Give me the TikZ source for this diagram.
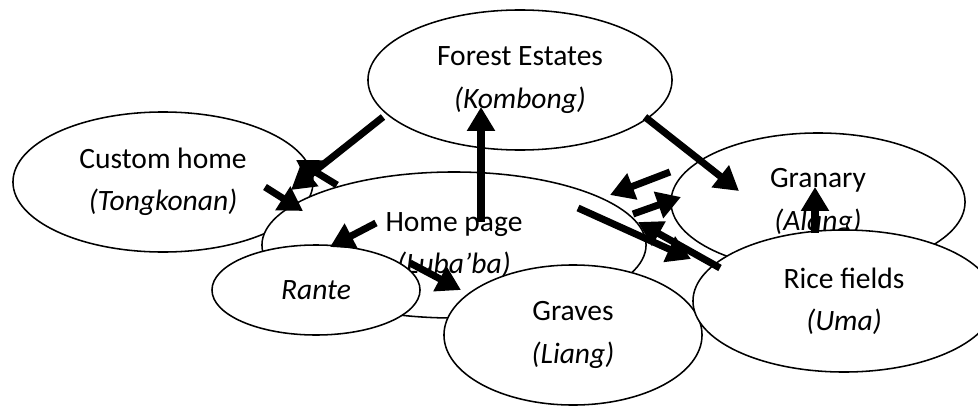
\documentclass[tikz,border=0pt]{standalone}
\usepackage{fontspec}
\setmainfont{Carlito}
\usetikzlibrary{shapes.geometric, arrows.meta, positioning}
\tikzset{fattriangle/.tip={Triangle[length = 17pt, width = 19pt]}}

\begin{document}
\begin{tikzpicture}[
    x = 0.025cm,
    y = -0.025cm,
    place/.style={
        ellipse,
        draw = black,
        fill = white,
        line width = 1.1pt,
        inner sep = 0pt,
        align = center,
        font = \fontsize{21}{30}\selectfont
    },
    link/.style={
        line width = 5pt,
        -fattriangle
    }
]
\useasboundingbox (0, 0) rectangle (978, 407);

% places
\node[place, minimum width = 7.5cm, minimum height = 3.5cm] (custom) at (163, 182) {Custom home\\\textit{(Tongkonan)}};
\node[place, minimum width = 7.6cm, minimum height = 3.5cm] (forest) at (520, 80) {Forest Estates\\\textit{(Kombong)}};
\node[place, minimum width = 9.6cm, minimum height = 3.65cm] (home) at (454, 245) {Home page\\\textit{(Luba’ba)}};
\node[place, minimum width = 7.35cm, minimum height = 3.45cm] (granary) at (818, 202) {Granary\\\textit{(Alang)}};
\node[place, minimum width = 5.2cm, minimum height = 2.25cm] (rante) at (316, 290) {\textit{Rante}};
\node[place, minimum width = 6.45cm, minimum height = 3.5cm] (graves) at (573, 335) {Graves\\\textit{(Liang)}};
\node[place, minimum width = 7.55cm, minimum height = 3.55cm] (rice) at (844, 301) {Rice fields\\\textit{(Uma)}};

% arrow ends
\coordinate (fc1) at (383, 117);
\coordinate (fc2) at (291, 190);
\coordinate (hc1) at (337, 185);
\coordinate (hc2) at (296, 160);
\coordinate (ch1) at (265, 187);
\coordinate (ch2) at (303, 211);
\coordinate (hf1) at (481, 222);
\coordinate (hf2) at (481, 107);
\coordinate (hr1) at (376, 223);
\coordinate (hr2) at (330, 247);
\coordinate (hg1) at (410, 263);
\coordinate (hg2) at (461, 290);
\coordinate (fg1) at (645, 117);
\coordinate (fg2) at (739, 191);
\coordinate (gh1) at (670, 172);
\coordinate (gh2) at (610, 195);
\coordinate (hn1) at (633, 214);
\coordinate (hn2) at (681, 197);
\coordinate (hu1) at (578, 208);
\coordinate (hu2) at (691, 259);
\coordinate (uh1) at (720, 268);
\coordinate (uh2) at (638, 222);
\coordinate (un1) at (815, 233);
\coordinate (un2) at (815, 187);

% arrows
\draw[link] (fc1) -- (fc2);
\draw[link] (hc1) -- (hc2);
\draw[link] (ch1) -- (ch2);
\draw[link] (hf1) -- (hf2);
\draw[link] (hr1) -- (hr2);
\draw[link] (hg1) -- (hg2);
\draw[link] (fg1) -- (fg2);
\draw[link] (gh1) -- (gh2);
\draw[link] (hn1) -- (hn2);
\draw[link] (hu1) -- (hu2);
\draw[link] (uh1) -- (uh2);
\draw[link] (un1) -- (un2);

\end{tikzpicture}
\end{document}
